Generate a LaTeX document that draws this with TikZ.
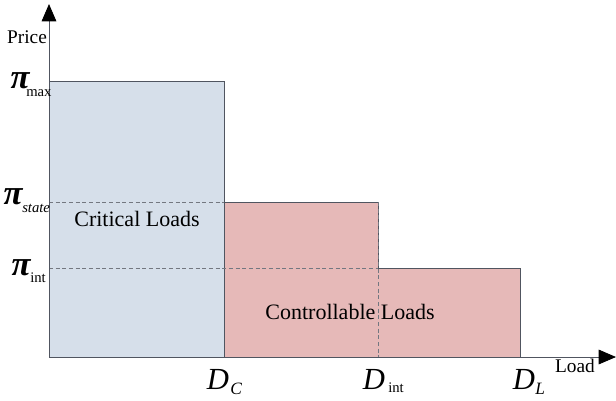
\documentclass[tikz,border=0pt]{standalone}
\usepackage{fontspec}
\setmainfont{Liberation Serif}
\usetikzlibrary{arrows.meta}
\definecolor{bluefill}{HTML}{D6DFEA}
\definecolor{pinkfill}{HTML}{E6B9B8}
\definecolor{edge}{HTML}{505560}
\begin{document}
\begin{tikzpicture}[x=0.75pt,y=-0.75pt,
  axis/.style={draw=edge,line width=0.6pt,-{Triangle[length=13pt,width=11pt,color=black]}},
  bar/.style={draw=edge,line width=0.7pt},
  guide/.style={draw=edge!80,dashed,line width=0.6pt,dash pattern=on 3pt off 2pt},
  lab/.style={font=\fontsize{14.5}{17}\selectfont,inner sep=0pt},
  pil/.style={font=\fontsize{26}{30}\selectfont\itshape\bfseries,inner sep=0pt},
  sub/.style={font=\fontsize{11}{13}\selectfont,inner sep=0pt},
  dl/.style={font=\fontsize{23}{26}\selectfont\itshape,inner sep=0pt}]
\useasboundingbox (0,0) rectangle (616,400);
\coordinate (O) at (49,357);
\coordinate (ytop) at (49,4);
\coordinate (xend) at (616,357);
% rectangles
\fill[bluefill] (49,81) rectangle (224,357);
\fill[pinkfill] (224,202) rectangle (378,357);
\fill[pinkfill] (378,268) rectangle (520,357);
\draw[bar] (49,81) -- (224,81) -- (224,357);
\draw[bar] (224,202) -- (378,202) -- (378,268);
\draw[bar] (378,268) -- (520,268) -- (520,357);
% dashed guides
\draw[guide] (49,202) -- (224,202);
\draw[guide] (49,268) -- (378,268);
\draw[guide] (378,202) -- (378,357);
% axes
\draw[axis] (O) -- (ytop);
\draw[axis] (O) -- (xend);
% labels
\node[lab] (price) at (27,37) {Price};
\node[lab] (load) at (575,366) {Load};
\node[pil] (pmax) at (20,81) {π};
\node[sub,anchor=west] (pmaxs) at (26,93) {max};
\node[pil] (pst) at (13,197) {π};
\node[sub,anchor=west] (psts) at (22,208) {\itshape state};
\node[pil] (pint) at (21,268) {π};
\node[sub,anchor=west] (pints) at (30,278) {int};
\node[dl] (dc) at (218,379) {D};
\node[sub,anchor=west,font=\fontsize{13}{15}\selectfont\itshape] (dcs) at (230,389) {C};
\node[dl] (dint) at (374,379) {D};
\node[sub,anchor=west] (dints) at (388,388) {int};
\node[dl] (dlab) at (524,379) {D};
\node[sub,anchor=west,font=\fontsize{13}{15}\selectfont\itshape] (dls) at (535,389) {L};
\node[lab,font=\fontsize{16.5}{19}\selectfont] (crit) at (137,219) {Critical Loads};
\node[lab,font=\fontsize{16.5}{19}\selectfont] (ctrl) at (350,312) {Controllable Loads};
\end{tikzpicture}
\end{document}
